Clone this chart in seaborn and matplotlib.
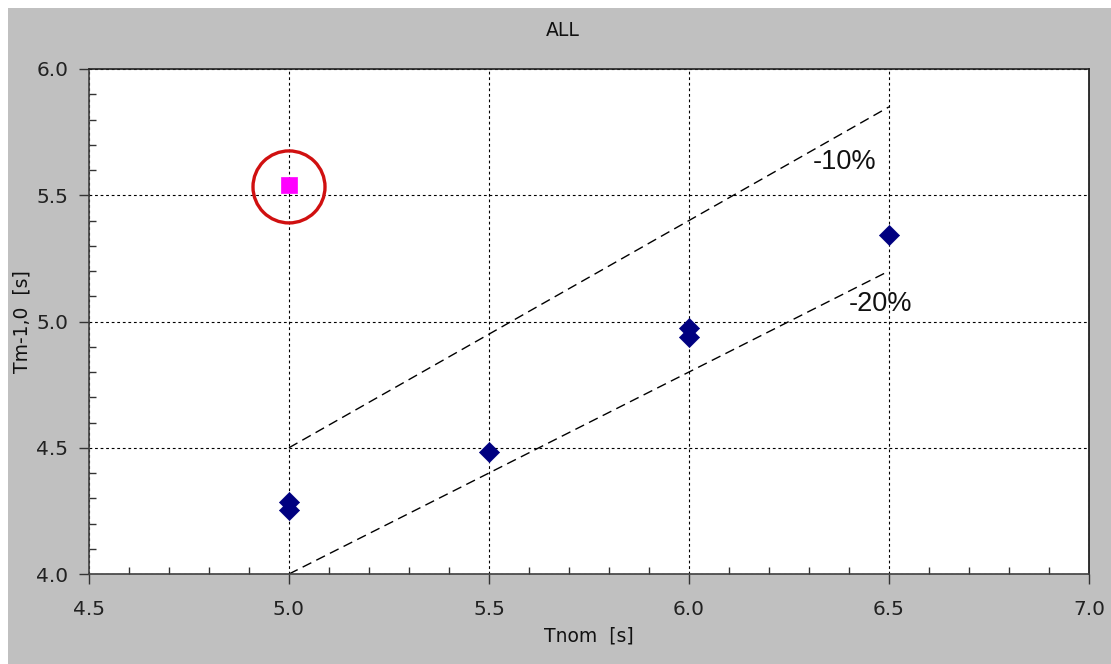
import matplotlib
matplotlib.use("Agg")
import matplotlib.pyplot as plt
from matplotlib.patches import Rectangle, Ellipse
from matplotlib.ticker import MultipleLocator, FormatStrFormatter
import numpy as np
import pandas as pd
import seaborn as sns

# Measured wave periods per test
tnom = [5.0, 5.0, 5.5, 6.0, 6.0, 6.5]
tm10 = [4.285, 4.253, 4.483, 4.975, 4.938, 5.343]

# Outlier test (highlighted)
tnom_out = [5.0]
tm10_out = [5.54]

# Reference lines: Tm-1,0 = (1 - p) * Tnom
ref_x = [5.0, 6.5]
ref_pct = [0.10, 0.20]
ref_labels = ["-10%", "-20%"]
ref_label_pos = [(6.39, 5.632), (6.48, 5.069)]

sns.set_theme(style="white")
plt.rcParams["font.family"] = ["DejaVu Sans"]

fig = plt.figure(figsize=(11.11, 6.64), dpi=100)
fig.patch.set_facecolor("white")
fig.patches.append(Rectangle((8 / 1111, 0), 1 - 8 / 1111, 1 - 8 / 664,
                             transform=fig.transFigure, facecolor="#c0c0c0",
                             edgecolor="none", zorder=-10))

ax = fig.add_axes([89 / 1111, 1 - 574 / 664, 1000 / 1111, 505 / 664])
ax.set_facecolor("white")

df = pd.DataFrame({"Tnom": tnom, "Tm": tm10})
df_out = pd.DataFrame({"Tnom": tnom_out, "Tm": tm10_out})

# Reference lines
for p, lab, pos in zip(ref_pct, ref_labels, ref_label_pos):
    xs = np.array(ref_x)
    ax.plot(xs, xs * (1 - p), color="black", lw=1.0, ls=(0, (7, 4)), zorder=2)
    ax.text(pos[0], pos[1], lab, fontsize=19.5, family="Liberation Sans",
            ha="center", va="center", color="#111111", zorder=3)

sns.scatterplot(data=df, x="Tnom", y="Tm", marker="D", s=105, color="#000080",
                edgecolor="#000080", linewidth=0.5, ax=ax, zorder=4)
sns.scatterplot(data=df_out, x="Tnom", y="Tm", marker="s", s=120, color="#ff00ff",
                edgecolor="#ff00ff", linewidth=0.5, ax=ax, zorder=4)

# Highlight ring around outlier
ax.add_patch(Ellipse((tnom_out[0], tm10_out[0] - 0.007), width=36 * 2 / 400,
                     height=36 * 2 / 252.5, facecolor="none",
                     edgecolor="#d01010", lw=2.4, zorder=5))

ax.set_xlim(4.5, 7.0)
ax.set_ylim(4.0, 6.0)
ax.xaxis.set_major_locator(MultipleLocator(0.5))
ax.yaxis.set_major_locator(MultipleLocator(0.5))
ax.xaxis.set_minor_locator(MultipleLocator(0.1))
ax.yaxis.set_minor_locator(MultipleLocator(0.1))
ax.xaxis.set_major_formatter(FormatStrFormatter("%.1f"))
ax.yaxis.set_major_formatter(FormatStrFormatter("%.1f"))

ax.tick_params(axis="both", which="major", direction="out", length=7, width=1,
               color="#333333", labelsize=14.5, labelcolor="#222222",
               bottom=True, left=True)
ax.tick_params(axis="x", which="major", pad=12)
ax.tick_params(axis="y", which="major", pad=8)
ax.tick_params(axis="both", which="minor", direction="in", length=5, width=1,
               color="#333333", bottom=True, left=True)

ax.grid(True, which="major", color="black", lw=0.8, ls=(0, (2.5, 2.5)))
ax.set_axisbelow(True)

for side in ["left", "bottom", "top", "right"]:
    ax.spines[side].set_visible(True)
    ax.spines[side].set_linewidth(1.2)
ax.spines["left"].set_color("#404040")
ax.spines["bottom"].set_color("#404040")
ax.spines["top"].set_color("#222222")
ax.spines["right"].set_color("#111111")

ax.set_xlabel("Tnom  [s]", fontsize=13.5, color="#111111", labelpad=5)
ax.set_ylabel("Tm-1,0  [s]", fontsize=13.5, color="#111111", labelpad=3.5)
fig.text(563 / 1111, 1 - 30 / 664, "ALL", fontsize=13.5, color="#111111",
         ha="center", va="center")

fig.savefig("out.png", dpi=100, facecolor=fig.get_facecolor())
